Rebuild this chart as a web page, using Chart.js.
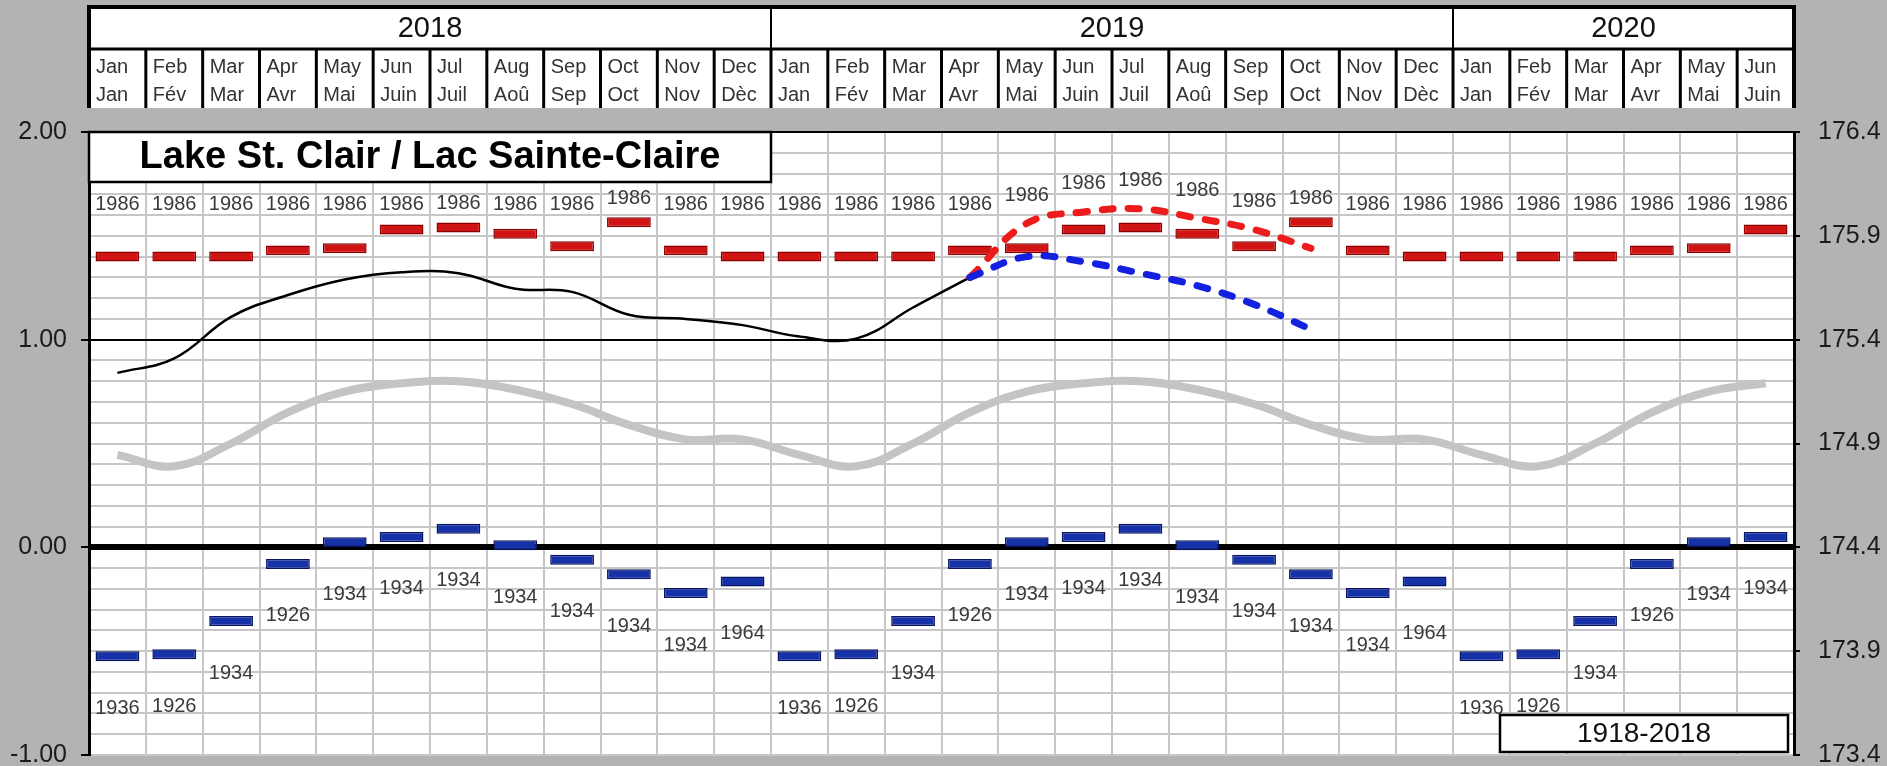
<!DOCTYPE html>
<html>
<head>
<meta charset="utf-8">
<title>Lake St. Clair / Lac Sainte-Claire</title>
<script src="https://cdn.jsdelivr.net/npm/chart.js@4.4.1/dist/chart.umd.min.js"></script>
<style>
  html, body { margin: 0; padding: 0; background: #b3b3b3; }
  canvas { display: block; }
</style>
</head>
<body>
<canvas id="levelChart" width="1887" height="766"></canvas>
<script>
// header: years and bilingual month names
const years = ['2018', '2019', '2020'];
const monthsEn = ['Jan', 'Feb', 'Mar', 'Apr', 'May', 'Jun', 'Jul', 'Aug', 'Sep', 'Oct', 'Nov', 'Dec'];
const monthsFr = ['Jan', 'Fév', 'Mar', 'Avr', 'Mai', 'Juin', 'Juil', 'Aoû', 'Sep', 'Oct', 'Nov', 'Dèc'];
const monthCount = 30; // Jan 2018 - Jun 2020

// recorded monthly levels, Jan 2018 - Apr 2019 (m above chart datum)
const recorded = [0.84, 0.91, 1.11, 1.215, 1.29, 1.325, 1.32, 1.245, 1.23, 1.12, 1.10, 1.07,
                  1.015, 1.005, 1.155, 1.30];
// forecast range, Apr 2019 - Oct 2019
const forecastStart = 15;
const forecastHigh = [1.30, 1.56, 1.615, 1.63, 1.585, 1.53, 1.44];
const forecastLow = [1.30, 1.40, 1.375, 1.32, 1.26, 1.17, 1.05];

// long-term average by calendar month (1918-2018)
const averageLevel = [0.445, 0.39, 0.50, 0.65, 0.75, 0.79, 0.80, 0.76, 0.69, 0.59, 0.52, 0.52];

// monthly record highs / lows and the year they were set
const recordHigh = [1.40, 1.40, 1.40, 1.43, 1.44, 1.53, 1.54, 1.51, 1.45, 1.565, 1.43, 1.40];
const recordHighYear = ['1986', '1986', '1986', '1986', '1986', '1986', '1986', '1986', '1986', '1986', '1986', '1986'];
const recordLow = [-0.525, -0.515, -0.355, -0.08, 0.025, 0.05, 0.09, 0.01, -0.06, -0.13, -0.22, -0.165];
const recordLowYear = ['1936', '1926', '1934', '1926', '1934', '1934', '1934', '1934', '1934', '1934', '1934', '1964'];

const periodLabel = '1918-2018';
const titleText = 'Lake St. Clair / Lac Sainte-Claire';

const FONT = '"Liberation Sans", Arial, sans-serif';
Chart.defaults.font.family = FONT;

// build the table chart.js wants
const categories = [];
for (let i = 0; i < monthCount; i++) {
    categories.push(monthsEn[i % 12] + ' ' + years[Math.floor(i / 12)]);
}
const pad = (arr, start) => {
    const out = new Array(monthCount).fill(null);
    arr.forEach((v, k) => { out[start + k] = v; });
    return out;
};
const byMonth = arr => categories.map((c, i) => arr[i % 12]);
const highForecastSeries = pad(forecastHigh, forecastStart);
const BAR_HALF = 0.024;

function isWhole(v) {
    return Math.abs(v - Math.round(v)) < 1e-6;
}

function drawHeader(chart) {
    const { ctx, chartArea: a } = chart;
    const w = (a.right - a.left) / monthCount;
    const top = 7, mid = 49, bottom = 108;

    ctx.save();
    ctx.fillStyle = '#ffffff';
    ctx.fillRect(a.left, top, a.right - a.left, bottom - top);
    ctx.strokeStyle = '#000';

    // month dividers
    ctx.lineWidth = 3;
    ctx.beginPath();
    for (let i = 1; i < monthCount; i++) {
        const x = a.left + i * w;
        ctx.moveTo(x, mid);
        ctx.lineTo(x, bottom);
    }
    ctx.stroke();

    // year dividers
    ctx.lineWidth = 2;
    ctx.beginPath();
    for (let k = 1; k < years.length; k++) {
        const x = a.left + k * 12 * w;
        ctx.moveTo(x, top);
        ctx.lineTo(x, mid);
    }
    ctx.stroke();

    ctx.lineWidth = 3;
    ctx.beginPath();
    ctx.moveTo(a.left, mid);
    ctx.lineTo(a.right, mid);
    ctx.stroke();

    // outer frame (open at the bottom)
    ctx.lineWidth = 4;
    ctx.beginPath();
    ctx.moveTo(a.left, bottom);
    ctx.lineTo(a.left, top);
    ctx.lineTo(a.right, top);
    ctx.lineTo(a.right, bottom);
    ctx.stroke();

    // year names
    ctx.fillStyle = '#111';
    ctx.font = '29px ' + FONT;
    ctx.textAlign = 'center';
    ctx.textBaseline = 'middle';
    years.forEach((yr, k) => {
        const s = k * 12;
        const e = Math.min((k + 1) * 12, monthCount);
        ctx.fillText(yr, a.left + (s + e) / 2 * w, (top + mid) / 2 + 1);
    });

    // month names
    ctx.fillStyle = '#333';
    ctx.font = '20px ' + FONT;
    ctx.textAlign = 'left';
    for (let i = 0; i < monthCount; i++) {
        const x = a.left + i * w + 7;
        ctx.fillText(monthsEn[i % 12], x, 67);
        ctx.fillText(monthsFr[i % 12], x, 95);
    }
    ctx.restore();
}

function drawRecordLabels(chart) {
    const ctx = chart.ctx;
    const ys = chart.scales.y;
    const hiMeta = chart.getDatasetMeta(4);
    const loMeta = chart.getDatasetMeta(5);
    const cap = ys.getPixelForValue(1.65);

    ctx.save();
    ctx.font = '20px ' + FONT;
    ctx.fillStyle = '#3a3a3a';
    ctx.textAlign = 'center';
    ctx.textBaseline = 'middle';
    for (let i = 0; i < monthCount; i++) {
        const yHi = ys.getPixelForValue(recordHigh[i % 12]);
        let yText = Math.min(yHi - 24, cap);
        // lift the label clear of the high forecast where it passes
        const f = highForecastSeries[i];
        if (f !== null && i > forecastStart) {
            yText = Math.min(yText, ys.getPixelForValue(f) - 28);
        }
        ctx.fillText(recordHighYear[i % 12], hiMeta.data[i].x, yText);
        const yLo = ys.getPixelForValue(recordLow[i % 12]);
        ctx.fillText(recordLowYear[i % 12], loMeta.data[i].x, yLo + 52);
    }
    ctx.restore();
}

function drawBoxes(chart) {
    const { ctx, chartArea: a } = chart;
    const w = (a.right - a.left) / monthCount;
    ctx.save();

    // title box over the first year
    ctx.fillStyle = '#fff';
    ctx.strokeStyle = '#000';
    ctx.lineWidth = 2.5;
    ctx.fillRect(a.left, a.top, 12 * w, 50);
    ctx.strokeRect(a.left, a.top, 12 * w, 50);
    ctx.fillStyle = '#000';
    ctx.font = 'bold 38px ' + FONT;
    ctx.textAlign = 'center';
    ctx.textBaseline = 'middle';
    ctx.fillText(titleText, a.left + 6 * w, a.top + 26);

    // period box, bottom right
    const bw = 288, bh = 37;
    const bx = a.right - 6 - bw, by = a.bottom - 3 - bh;
    ctx.fillStyle = '#fff';
    ctx.fillRect(bx, by, bw, bh);
    ctx.strokeRect(bx, by, bw, bh);
    ctx.fillStyle = '#111';
    ctx.font = '28px ' + FONT;
    ctx.fillText(periodLabel, bx + bw / 2, by + bh / 2 + 1);
    ctx.restore();
}

const sheetPlugin = {
    id: 'sheet',
    beforeDraw(chart) {
        const { ctx, chartArea: a } = chart;
        ctx.save();
        ctx.fillStyle = '#ffffff';
        ctx.fillRect(a.left, a.top, a.right - a.left, a.bottom - a.top);
        ctx.restore();
        drawHeader(chart);
    },
    afterDatasetsDraw(chart) {
        drawRecordLabels(chart);
        drawBoxes(chart);
    }
};

const gridGrey = '#c6c6c6';

new Chart(document.getElementById('levelChart').getContext('2d'), {
    type: 'bar',
    data: {
        labels: categories,
        datasets: [
            {
                type: 'line',
                label: 'Recorded',
                data: pad(recorded, 0),
                borderColor: '#000',
                borderWidth: 2.5,
                pointRadius: 0,
                tension: 0.4,
                order: 3
            },
            {
                type: 'line',
                label: 'Forecast high',
                data: highForecastSeries,
                borderColor: '#ee1b1b',
                borderWidth: 7,
                borderDash: [11, 15],
                borderCapStyle: 'round',
                pointRadius: 0,
                tension: 0.4,
                order: 2
            },
            {
                type: 'line',
                label: 'Forecast low',
                data: pad(forecastLow, forecastStart),
                borderColor: '#1420e0',
                borderWidth: 7,
                borderDash: [11, 15],
                borderCapStyle: 'round',
                pointRadius: 0,
                tension: 0.4,
                order: 1
            },
            {
                type: 'line',
                label: 'Average',
                data: byMonth(averageLevel),
                borderColor: '#c4c4c4',
                borderWidth: 8,
                pointRadius: 0,
                tension: 0.4,
                order: 6
            },
            {
                type: 'bar',
                label: 'Record high',
                data: byMonth(recordHigh).map(v => [v - BAR_HALF, v + BAR_HALF]),
                backgroundColor: '#d01414',
                borderColor: '#8a0000',
                borderWidth: 1.5,
                borderSkipped: false,
                grouped: false,
                barPercentage: 0.77,
                categoryPercentage: 1,
                order: 5
            },
            {
                type: 'bar',
                label: 'Record low',
                data: byMonth(recordLow).map(v => [v - BAR_HALF, v + BAR_HALF]),
                backgroundColor: '#1632a8',
                borderColor: '#0a1560',
                borderWidth: 1.5,
                borderSkipped: false,
                grouped: false,
                barPercentage: 0.77,
                categoryPercentage: 1,
                order: 4
            }
        ]
    },
    options: {
        responsive: false,
        animation: false,
        layout: { padding: { top: 132, left: 0, right: 0, bottom: 0 } },
        plugins: {
            legend: { display: false },
            tooltip: { enabled: false }
        },
        scales: {
            x: {
                offset: true,
                grid: { offset: true, color: gridGrey, lineWidth: 2, drawTicks: false },
                border: { display: false },
                ticks: { display: false },
                afterFit: s => { s.height = 11; }
            },
            y: {
                position: 'left',
                min: -1,
                max: 2,
                ticks: {
                    stepSize: 0.1,
                    autoSkip: false,
                    padding: 14,
                    color: '#1a1a1a',
                    font: { size: 25 },
                    callback: v => isWhole(v) ? v.toFixed(2) : ''
                },
                grid: {
                    color: c => {
                        const v = c.tick.value;
                        return (isWhole(v) && v > -1) ? '#000' : gridGrey;
                    },
                    lineWidth: c => {
                        const v = c.tick.value;
                        if (Math.abs(v) < 1e-6) return 6;
                        return 2;
                    },
                    tickLength: 8,
                    tickWidth: 2,
                    tickColor: c => isWhole(c.tick.value) ? '#000' : 'rgba(0,0,0,0)'
                },
                border: { color: '#000', width: 3 },
                afterFit: s => { s.width = 89; s.paddingTop = 0; s.paddingBottom = 0; }
            },
            y2: {
                position: 'right',
                min: 173.4,
                max: 176.4,
                ticks: {
                    stepSize: 0.5,
                    padding: 18,
                    color: '#1a1a1a',
                    font: { size: 25 },
                    callback: v => v.toFixed(1)
                },
                grid: { drawOnChartArea: false, tickLength: 6, color: '#000', lineWidth: 2 },
                border: { color: '#000', width: 3 },
                afterFit: s => { s.width = 93; s.paddingTop = 0; s.paddingBottom = 0; }
            }
        }
    },
    plugins: [sheetPlugin]
});
</script>
</body>
</html>
